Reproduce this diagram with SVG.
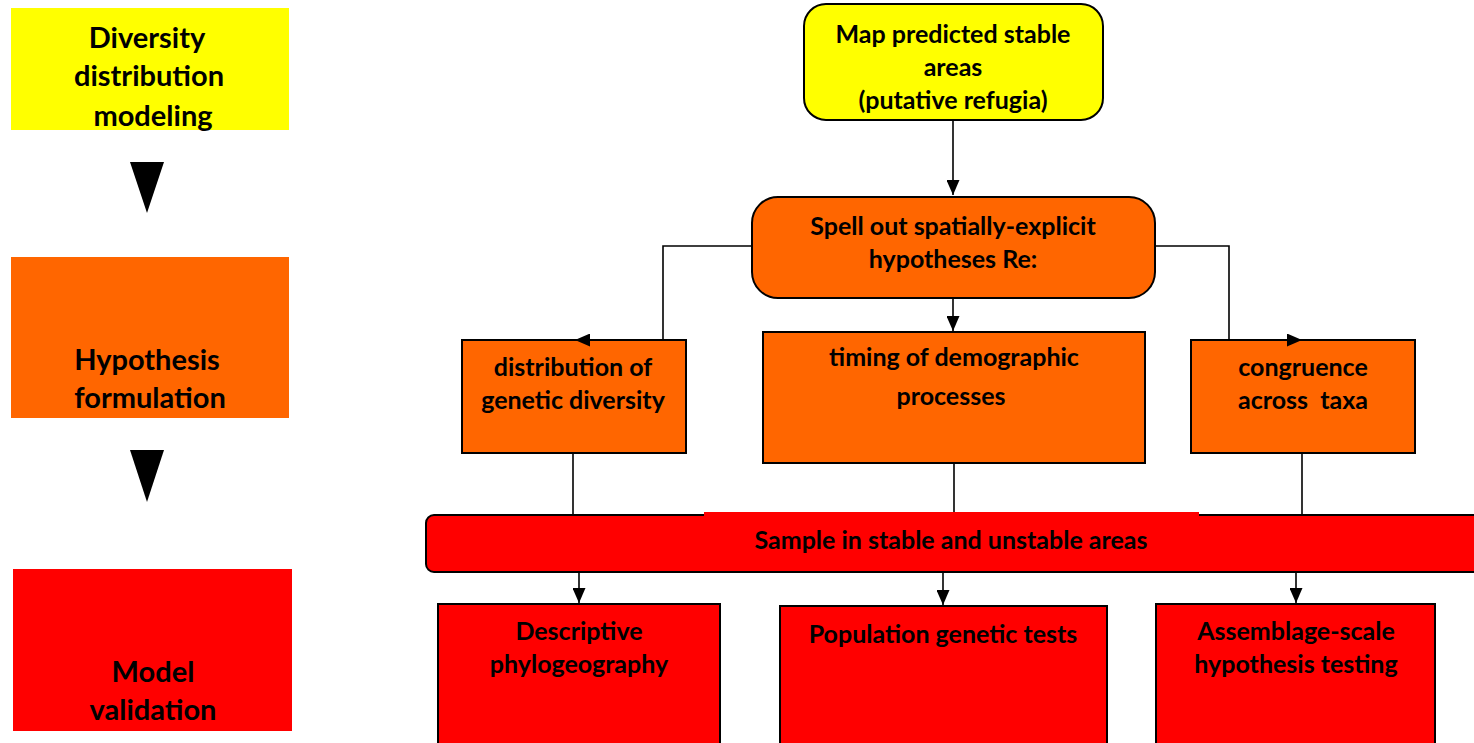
<svg xmlns="http://www.w3.org/2000/svg" width="1474" height="743" viewBox="0 0 1474 743">
<defs>
<style>
.t{font-family:Lato,"Open Sans","Liberation Sans",sans-serif;font-weight:bold;fill:#000;text-anchor:middle}
.big{font-size:29px}
.md{font-size:25px}
.box{stroke:#000;stroke-width:2}
.y{fill:#FFFF00}
.o{fill:#FF6600}
.r{fill:#FF0000}
.ln{fill:none;stroke:#000;stroke-width:1.6}
</style>
<marker id="ah" markerUnits="userSpaceOnUse" markerWidth="15" markerHeight="13" viewBox="0 0 15 13" refX="15" refY="6.5" orient="auto">
<path d="M0,0 L15,6.5 L0,13 Z" fill="#000"/>
</marker>
</defs>

<g id="left-diversity">
<rect x="11" y="8" width="278" height="122" class="y"/>
<text class="t big" x="147" y="48">Diversity</text>
<text class="t big" x="149" y="86">distribution</text>
<text class="t big" x="153" y="126">modeling</text>
</g>
<g id="left-arrow1"><polygon points="130,162 164,162 147,213" fill="#000"/></g>
<g id="left-hypothesis">
<rect x="11" y="257" width="278" height="161" class="o"/>
<text class="t big" x="147" y="370">Hypothesis</text>
<text class="t big" x="150" y="408">formulation</text>
</g>
<g id="left-arrow2"><polygon points="130,450 164,450 147,502" fill="#000"/></g>
<g id="left-model">
<rect x="13" y="569" width="279" height="162" class="r"/>
<text class="t big" x="153" y="682">Model</text>
<text class="t big" x="153" y="720">validation</text>
</g>

<g id="map">
<rect x="804" y="4" width="299" height="116" rx="22" class="box y"/>
<text class="t md" x="953" y="43">Map predicted stable</text>
<text class="t md" x="953" y="76">areas</text>
<text class="t md" x="953" y="109">(putative refugia)</text>
</g>
<g id="spell">
<rect x="752" y="197" width="403" height="101" rx="26" class="box o"/>
<text class="t md" x="953" y="235">Spell out spatially-explicit</text>
<text class="t md" x="953" y="268">hypotheses Re:</text>
</g>
<g id="distribution">
<rect x="462" y="340" width="224" height="113" class="box o"/>
<text class="t md" x="573" y="376">distribution of</text>
<text class="t md" x="573" y="409">genetic diversity</text>
</g>
<g id="timing">
<rect x="763" y="332" width="382" height="131" class="box o"/>
<text class="t md" x="954" y="366">timing of demographic</text>
<text class="t md" x="951" y="405">processes</text>
</g>
<g id="congruence">
<rect x="1191" y="340" width="224" height="113" class="box o"/>
<text class="t md" x="1303" y="376">congruence</text>
<text class="t md" x="1303" y="409" xml:space="preserve">across  taxa</text>
</g>
<g id="sample">
<rect x="426" y="515" width="1100" height="57" rx="8" class="box r"/>
<rect x="704" y="512" width="495" height="5" class="r"/>
<text class="t md" x="951" y="549">Sample in stable and unstable areas</text>
</g>
<g id="descriptive">
<rect x="438" y="604" width="282" height="150" class="box r"/>
<text class="t md" x="579" y="640">Descriptive</text>
<text class="t md" x="579" y="673">phylogeography</text>
</g>
<g id="population">
<rect x="780" y="606" width="327" height="150" class="box r"/>
<text class="t md" x="943" y="643">Population genetic tests</text>
</g>
<g id="assemblage">
<rect x="1156" y="604" width="279" height="150" class="box r"/>
<text class="t md" x="1296" y="640">Assemblage-scale</text>
<text class="t md" x="1296" y="673">hypothesis testing</text>
</g>

<g id="connectors">
<path class="ln" d="M953,120 V195" marker-end="url(#ah)"/>
<path class="ln" d="M752,246 H663 V340 H575" marker-end="url(#ah)"/>
<path class="ln" d="M1155,246 H1229 V340 H1302" marker-end="url(#ah)"/>
<path class="ln" d="M953,298 V331" marker-end="url(#ah)"/>
<path class="ln" d="M573,454 V514"/>
<path class="ln" d="M954,464 V512"/>
<path class="ln" d="M1302,454 V514"/>
<path class="ln" d="M579,573 V603" marker-end="url(#ah)"/>
<path class="ln" d="M943,573 V605" marker-end="url(#ah)"/>
<path class="ln" d="M1296,573 V603" marker-end="url(#ah)"/>
</g>
</svg>
